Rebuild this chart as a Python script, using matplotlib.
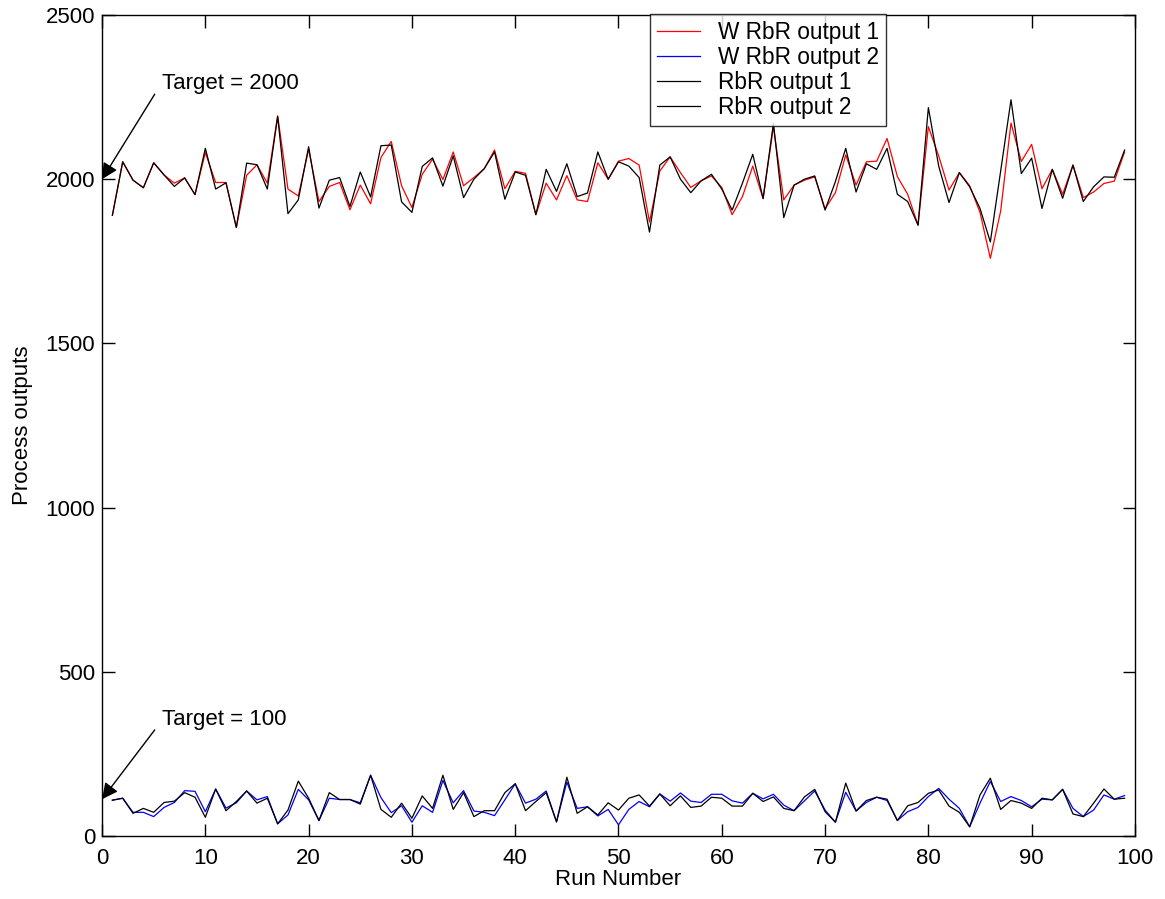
import numpy as np
import matplotlib
matplotlib.use("Agg")
import matplotlib.pyplot as plt

plt.rcParams['font.family'] = ['Liberation Sans', 'DejaVu Sans']

runs = list(range(1, 100))

# Weighted run-by-run controller, output 1 (target 2000)
w_rbr_out1 = [1890, 2053, 1997, 1974, 2050, 2013, 1988, 2004, 1953, 2081,
              1990, 1990, 1853, 2012, 2044, 1988, 2193, 1970, 1949, 2091,
              1932, 1978, 1990, 1907, 1982, 1925, 2066, 2115, 1980, 1914,
              2015, 2061, 1999, 2083, 1980, 2005, 2032, 2089, 1971, 2024,
              2018, 1892, 1988, 1937, 2011, 1937, 1932, 2050, 2000, 2055,
              2063, 2043, 1870, 2025, 2068, 2020, 1975, 1995, 2010, 1975,
              1892, 1947, 2040, 1941, 2160, 1937, 1982, 1997, 2007, 1910,
              1959, 2074, 1982, 2053, 2055, 2124, 2008, 1954, 1860, 2160,
              2071, 1967, 2020, 1980, 1899, 1759, 1903, 2171, 2054, 2106,
              1971, 2030, 1954, 2043, 1944, 1961, 1987, 1994, 2083]

# Weighted run-by-run controller, output 2 (target 100)
w_rbr_out2 = [109, 115, 72, 72, 59, 87, 102, 138, 136, 74,
              143, 85, 101, 137, 110, 120, 37, 64, 142, 110,
              47, 115, 111, 111, 101, 185, 117, 71, 92, 42,
              92, 72, 169, 101, 138, 76, 72, 62, 110, 159,
              100, 112, 137, 43, 164, 84, 89, 61, 81, 34,
              81, 105, 89, 128, 106, 131, 106, 102, 127, 127,
              107, 100, 130, 113, 127, 94, 77, 107, 137, 79,
              42, 133, 76, 102, 118, 108, 47, 74, 87, 120,
              145, 112, 84, 28, 100, 166, 105, 120, 108, 89,
              112, 110, 142, 84, 59, 79, 125, 112, 123]

# Plain run-by-run controller, output 1
rbr_out1 = [1890, 2053, 1997, 1974, 2050, 2013, 1978, 2004, 1953, 2094,
            1970, 1989, 1853, 2049, 2044, 1970, 2191, 1895, 1937, 2099,
            1912, 1997, 2005, 1917, 2022, 1946, 2102, 2104, 1931, 1899,
            2039, 2065, 1979, 2071, 1944, 2000, 2032, 2083, 1939, 2022,
            2012, 1892, 2030, 1963, 2047, 1947, 1958, 2083, 2000, 2053,
            2040, 2005, 1839, 2043, 2068, 2000, 1959, 1995, 2015, 1970,
            1906, 1988, 2076, 1941, 2170, 1883, 1982, 2000, 2010, 1906,
            1993, 2094, 1961, 2047, 2030, 2094, 1954, 1932, 1860, 2218,
            2040, 1929, 2020, 1977, 1911, 1809, 2025, 2242, 2017, 2064,
            1911, 2030, 1942, 2043, 1932, 1977, 2007, 2006, 2089]

# Plain run-by-run controller, output 2
rbr_out2 = [109, 115, 69, 84, 72, 102, 106, 132, 118, 57,
            143, 77, 105, 137, 100, 115, 37, 79, 167, 115,
            47, 132, 111, 111, 97, 185, 81, 57, 100, 54,
            122, 84, 185, 81, 132, 59, 77, 77, 132, 159,
            77, 105, 132, 43, 179, 69, 89, 64, 101, 79,
            115, 125, 91, 128, 92, 122, 87, 91, 118, 115,
            91, 91, 130, 105, 119, 84, 77, 119, 142, 74,
            42, 161, 76, 108, 118, 112, 47, 92, 102, 130,
            140, 91, 72, 28, 125, 176, 81, 108, 100, 84,
            115, 110, 142, 67, 59, 100, 143, 112, 115]

x_ticks = list(range(0, 101, 10))
y_ticks = list(range(0, 2501, 500))

fs = 16

fig = plt.figure(figsize=(11.65, 8.99), dpi=100)
ax = fig.add_axes([0.0876, 0.0701, 0.8866, 0.9132])

lw = 0.9
ax.plot(runs, w_rbr_out1, color='red', lw=lw, label='W RbR output 1')
ax.plot(runs, w_rbr_out2, color='blue', lw=lw, label='W RbR output 2')
ax.plot(runs, rbr_out1, color='black', lw=lw, label='RbR output 1')
ax.plot(runs, rbr_out2, color='black', lw=lw, label='RbR output 2')

ax.set_xlim(0, 100)
ax.set_ylim(0, 2500)
ax.set_xticks(x_ticks)
ax.set_yticks(y_ticks)
ax.tick_params(direction='in', length=9, width=1, top=True, right=True,
               labelsize=fs)
ax.tick_params(axis='x', pad=9)
ax.tick_params(axis='y', pad=5)
for s in ax.spines.values():
    s.set_linewidth(1.0)

ax.set_xlabel('Run Number', fontsize=fs, labelpad=0)
ax.set_ylabel('Process outputs', fontsize=fs, labelpad=9)

leg = ax.legend(loc='upper left', bbox_to_anchor=(0.5305, 1.0015),
                fontsize=fs + 0.3, frameon=True, fancybox=False,
                edgecolor='black', handlelength=1.9, handletextpad=0.8,
                borderpad=0.3, labelspacing=0.1, borderaxespad=0)
leg.get_frame().set_linewidth(1.0)

arrow = dict(arrowstyle='-|>', mutation_scale=24, color='black', lw=1,
             shrinkA=0, shrinkB=0)
ax.annotate('', xy=(0, 2000), xytext=(5.1, 2259), arrowprops=arrow)
ax.text(5.8, 2290, 'Target = 2000', fontsize=fs, ha='left', va='center')
ax.annotate('', xy=(0, 112), xytext=(5.1, 323), arrowprops=arrow)
ax.text(5.8, 354, 'Target = 100', fontsize=fs, ha='left', va='center')

fig.savefig('out.png', dpi=100)
